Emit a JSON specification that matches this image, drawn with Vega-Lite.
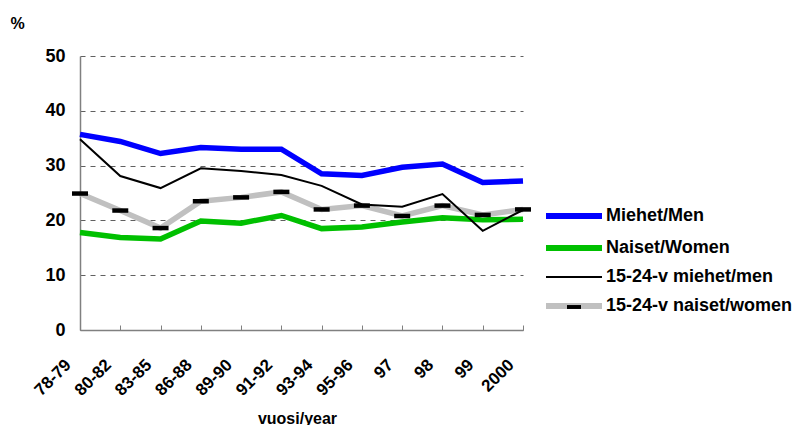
{
  "$schema": "https://vega.github.io/schema/vega-lite/v6.json",
  "width": 443,
  "height": 274,
  "autosize": {"type": "none"},
  "padding": {"left": 80, "top": 56, "right": 274, "bottom": 95},
  "background": "white",
  "config": {
    "font": "Liberation Sans",
    "view": {"stroke": null},
    "axis": {"labelFont": "Liberation Sans", "titleFont": "Liberation Sans", "labelFontWeight": "bold", "titleFontWeight": "bold", "labelColor": "black", "titleColor": "black"}
  },
  "data": {
    "values": [
      {"p": "78-79", "s": "Miehet/Men", "v": 35.7},
      {"p": "80-82", "s": "Miehet/Men", "v": 34.4},
      {"p": "83-85", "s": "Miehet/Men", "v": 32.2},
      {"p": "86-88", "s": "Miehet/Men", "v": 33.3},
      {"p": "89-90", "s": "Miehet/Men", "v": 33.0},
      {"p": "91-92", "s": "Miehet/Men", "v": 33.0},
      {"p": "93-94", "s": "Miehet/Men", "v": 28.5},
      {"p": "95-96", "s": "Miehet/Men", "v": 28.2},
      {"p": "97", "s": "Miehet/Men", "v": 29.7},
      {"p": "98", "s": "Miehet/Men", "v": 30.3},
      {"p": "99", "s": "Miehet/Men", "v": 26.9},
      {"p": "2000", "s": "Miehet/Men", "v": 27.2},
      {"p": "78-79", "s": "Naiset/Women", "v": 17.8},
      {"p": "80-82", "s": "Naiset/Women", "v": 16.9},
      {"p": "83-85", "s": "Naiset/Women", "v": 16.6},
      {"p": "86-88", "s": "Naiset/Women", "v": 19.9},
      {"p": "89-90", "s": "Naiset/Women", "v": 19.5},
      {"p": "91-92", "s": "Naiset/Women", "v": 20.9},
      {"p": "93-94", "s": "Naiset/Women", "v": 18.5},
      {"p": "95-96", "s": "Naiset/Women", "v": 18.8},
      {"p": "97", "s": "Naiset/Women", "v": 19.7},
      {"p": "98", "s": "Naiset/Women", "v": 20.5},
      {"p": "99", "s": "Naiset/Women", "v": 20.1},
      {"p": "2000", "s": "Naiset/Women", "v": 20.2},
      {"p": "78-79", "s": "15-24-v miehet/men", "v": 34.8},
      {"p": "80-82", "s": "15-24-v miehet/men", "v": 28.1},
      {"p": "83-85", "s": "15-24-v miehet/men", "v": 25.9},
      {"p": "86-88", "s": "15-24-v miehet/men", "v": 29.5},
      {"p": "89-90", "s": "15-24-v miehet/men", "v": 29.0},
      {"p": "91-92", "s": "15-24-v miehet/men", "v": 28.3},
      {"p": "93-94", "s": "15-24-v miehet/men", "v": 26.3},
      {"p": "95-96", "s": "15-24-v miehet/men", "v": 22.9},
      {"p": "97", "s": "15-24-v miehet/men", "v": 22.5},
      {"p": "98", "s": "15-24-v miehet/men", "v": 24.8},
      {"p": "99", "s": "15-24-v miehet/men", "v": 18.1},
      {"p": "2000", "s": "15-24-v miehet/men", "v": 21.9},
      {"p": "78-79", "s": "15-24-v naiset/women", "v": 24.9},
      {"p": "80-82", "s": "15-24-v naiset/women", "v": 21.8},
      {"p": "83-85", "s": "15-24-v naiset/women", "v": 18.6},
      {"p": "86-88", "s": "15-24-v naiset/women", "v": 23.5},
      {"p": "89-90", "s": "15-24-v naiset/women", "v": 24.2},
      {"p": "91-92", "s": "15-24-v naiset/women", "v": 25.2},
      {"p": "93-94", "s": "15-24-v naiset/women", "v": 22.0},
      {"p": "95-96", "s": "15-24-v naiset/women", "v": 22.7},
      {"p": "97", "s": "15-24-v naiset/women", "v": 20.8},
      {"p": "98", "s": "15-24-v naiset/women", "v": 22.7},
      {"p": "99", "s": "15-24-v naiset/women", "v": 21.0},
      {"p": "2000", "s": "15-24-v naiset/women", "v": 22.0}
    ]
  },
  "encoding": {
    "x": {
      "field": "p", "type": "ordinal", "sort": null,
      "scale": {"type": "point", "padding": 0},
      "axis": {
        "title": "vuosi/year", "titleFontSize": 16, "titleBaseline": "alphabetic", "titleY": 93, "titleX": 217, "titleAlign": "center",
        "labelAngle": -45, "labelAlign": "right", "labelBaseline": "middle", "labelFontSize": 17, "labelPadding": 37, "labelOffset": -12,
        "domainColor": "#808080", "domainWidth": 1.5, "tickColor": "#808080", "tickSize": -5, "tickWidth": 1, "grid": false
      }
    },
    "y": {
      "field": "v", "type": "quantitative",
      "scale": {"domain": [0, 50], "nice": false},
      "axis": {
        "values": [0, 10, 20, 30, 40, 50], "title": "%", "titleAngle": 0, "titleAlign": "left", "titleBaseline": "alphabetic",
        "titleX": -70, "titleY": -28, "titleFontSize": 16,
        "labelFontSize": 18, "labelPadding": 15, "ticks": false, "tickSize": 0,
        "domainColor": "#808080", "domainWidth": 1.5,
        "grid": true, "gridColor": "#606060", "gridDash": [5, 5], "gridWidth": 1
      }
    }
  },
  "layer": [
    {
      "transform": [{"filter": "datum.s !== '15-24-v miehet/men'"}],
      "mark": {"type": "line", "strokeWidth": 5.5, "strokeCap": "butt", "strokeJoin": "miter"},
      "encoding": {
        "color": {
          "field": "s", "type": "nominal",
          "scale": {
            "domain": ["Miehet/Men", "Naiset/Women", "15-24-v miehet/men", "15-24-v naiset/women"],
            "range": ["#0000FF", "#00C000", "#000000", "#C0C0C0"]
          },
          "legend": {
            "title": null, "orient": "none", "legendX": 485, "legendY": 151,
            "symbolType": "stroke", "symbolSize": 3136,
            "labelFontSize": 18, "labelFont": "Liberation Sans", "labelFontWeight": "bold", "labelColor": "black",
            "labelOffset": 23, "rowPadding": 8, "labelLimit": 300, "zindex": 1,
            "encode": {"symbols": {"update": {"strokeWidth": {"signal": "datum.value === '15-24-v miehet/men' ? 2 : 6"}}}}
          }
        }
      }
    },
    {
      "transform": [{"filter": "datum.s === '15-24-v miehet/men'"}],
      "mark": {"type": "line", "strokeWidth": 2, "strokeCap": "butt", "strokeJoin": "miter"},
      "encoding": {
        "color": {"field": "s", "type": "nominal"}
      }
    },
    {
      "transform": [{"filter": "datum.s === '15-24-v naiset/women'"}],
      "mark": {"type": "point", "filled": true, "color": "black", "size": 256, "opacity": 1},
      "encoding": {
        "shape": {
          "field": "s", "type": "nominal",
          "scale": {"range": ["M-1,-0.28L1,-0.28L1,0.28L-1,0.28Z"]},
          "legend": {
            "title": null, "orient": "none", "legendX": 487, "legendY": 244,
            "symbolSize": 196, "symbolFillColor": "black", "symbolStrokeColor": "black", "symbolStrokeWidth": 0, "symbolOpacity": 1,
            "labelExpr": "''", "labelFontSize": 1, "zindex": 2
          }
        }
      }
    }
  ]
}
